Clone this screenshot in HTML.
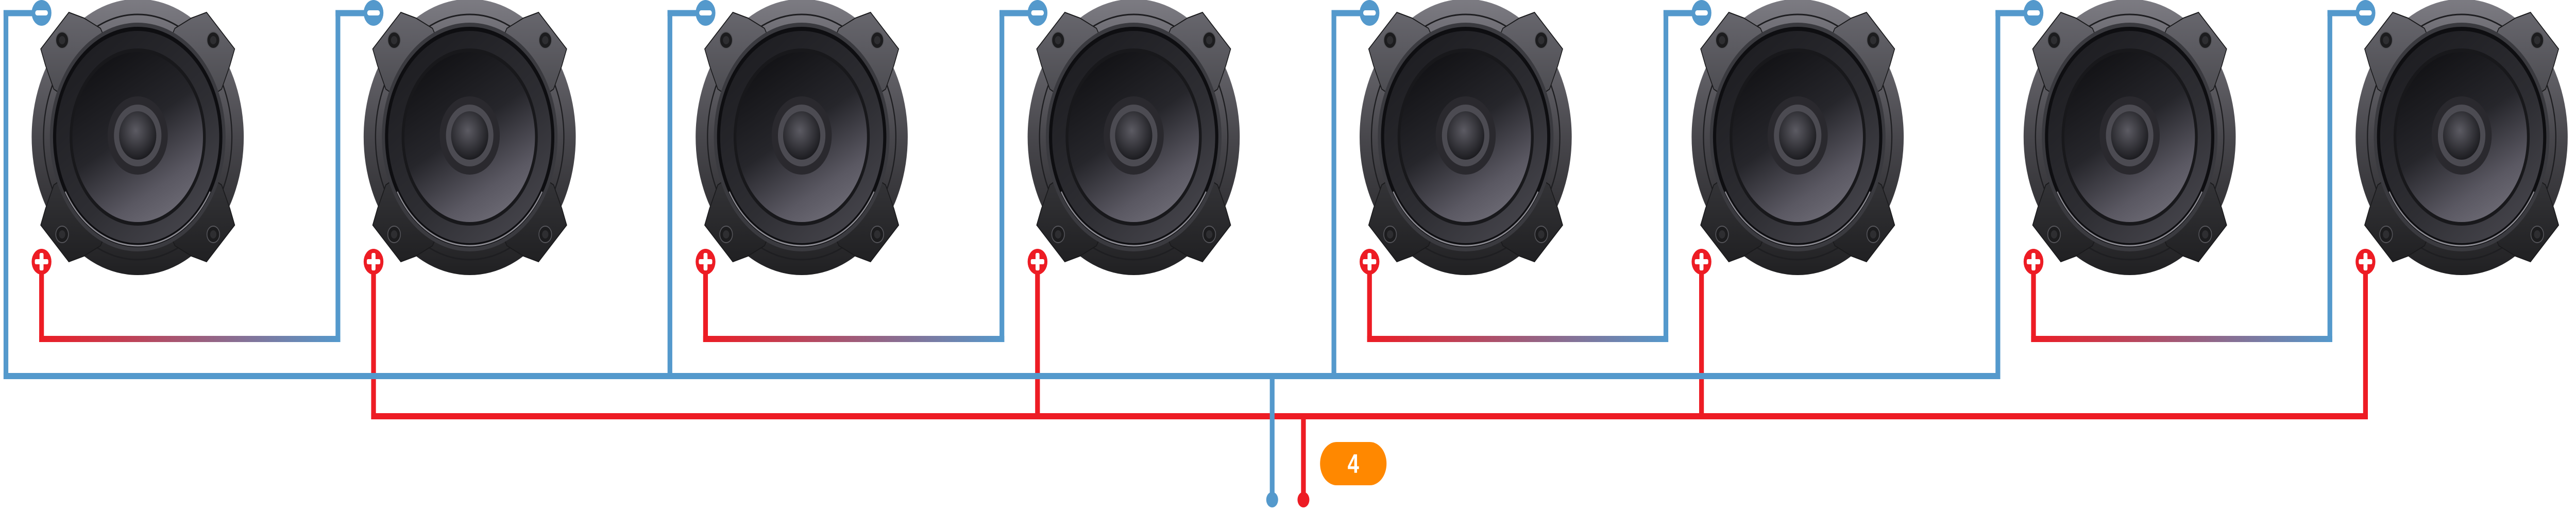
<!DOCTYPE html>
<html><head><meta charset="utf-8"><style>html,body{margin:0;padding:0;background:#fff;width:100%;height:100%;overflow:hidden}svg{display:block;width:100vw;height:100vh}</style></head>
<body>
<svg viewBox="0 0 6510 990" preserveAspectRatio="none" xmlns="http://www.w3.org/2000/svg">
<defs>
<linearGradient id="wg" x1="0" y1="0" x2="1" y2="0"><stop offset="0" stop-color="#ed1c24"/><stop offset="1" stop-color="#5499cc"/></linearGradient>
<linearGradient id="ring" gradientUnits="userSpaceOnUse" x1="0" y1="-268" x2="0" y2="268"><stop offset="0" stop-color="#7c7b82"/><stop offset="0.5" stop-color="#48474c"/><stop offset="1" stop-color="#202022"/></linearGradient>
<linearGradient id="brk" gradientUnits="userSpaceOnUse" x1="0" y1="-260" x2="0" y2="260"><stop offset="0" stop-color="#6a6970"/><stop offset="0.5" stop-color="#3e3e42"/><stop offset="1" stop-color="#1e1e20"/></linearGradient>
<linearGradient id="sur" gradientUnits="userSpaceOnUse" x1="-150" y1="-200" x2="150" y2="200"><stop offset="0" stop-color="#1c1c20"/><stop offset="0.6" stop-color="#2e2e33"/><stop offset="1" stop-color="#48474e"/></linearGradient>
<linearGradient id="cone" gradientUnits="userSpaceOnUse" x1="-80" y1="-160" x2="90" y2="160"><stop offset="0" stop-color="#121215"/><stop offset="0.45" stop-color="#26262b"/><stop offset="0.8" stop-color="#5a5862"/><stop offset="1" stop-color="#6e6c76"/></linearGradient>
<radialGradient id="cap" cx="0.45" cy="0.4" r="0.6"><stop offset="0" stop-color="#5c5b63"/><stop offset="1" stop-color="#1c1c20"/></radialGradient>
<g id="spk">
<circle r="268" fill="url(#ring)"/>
<circle r="238" fill="none" stroke="#1e1e21" stroke-width="3"/>
<g fill="url(#brk)" stroke="#1a1a1c" stroke-width="2">
<polygon points="-174,-242 -136,-231 -94,-211 -60,-150 -150,-60 -212,-93 -233,-139 -245,-171"/>
<polygon points="174,-242 136,-231 94,-211 60,-150 150,-60 212,-93 233,-139 245,-171"/>
<polygon points="-174,242 -136,231 -94,211 -60,150 -150,60 -212,93 -233,139 -245,171"/>
<polygon points="174,242 136,231 94,211 60,150 150,60 212,93 233,139 245,171"/>
</g>
<circle r="222" fill="#3a3a3f"/>
<circle r="214" fill="#0e0e11"/>
<circle r="206" fill="url(#sur)"/>
<path d="M -183 106 A 212 212 0 0 0 183 106" fill="none" stroke="#8a8990" stroke-width="3"/>
<circle r="172" fill="#18181b"/>
<circle r="165" fill="url(#cone)"/>
<circle cy="-3" r="76" fill="#2a292e"/>
<circle cy="-3" r="60" fill="#4c4b52"/>
<circle cy="-3" r="47" fill="url(#cap)"/>
<g fill="#1c1c1e" stroke="#55555a" stroke-width="2">
<circle cx="-191" cy="-188" r="16"/><circle cx="191" cy="-188" r="16"/>
<circle cx="-191" cy="189" r="16"/><circle cx="191" cy="189" r="16"/>
</g>
<g fill="#2e2e31">
<circle cx="-191" cy="-188" r="8"/><circle cx="191" cy="-188" r="8"/>
<circle cx="-191" cy="189" r="8"/><circle cx="191" cy="189" r="8"/>
</g>
</g>
<g id="minus"><circle r="25" fill="#5499cc"/><rect x="-16" y="-5" width="32" height="10" rx="5" fill="#fff"/></g>
<g id="plus"><circle r="25" fill="#ed1c24"/><rect x="-17" y="-5" width="34" height="10" rx="3" fill="#fff"/><rect x="-5" y="-17" width="10" height="34" rx="3" fill="#fff"/></g>
<g id="pair">
<rect x="9" y="19.5" width="96" height="12" fill="#5499cc"/>
<rect x="9" y="19.5" width="12" height="716.5" fill="#5499cc"/>
<rect x="99" y="508" width="12" height="156" fill="#ed1c24"/>
<rect x="99" y="652" width="761" height="12" fill="url(#wg)"/>
<rect x="848" y="19.5" width="12" height="644.5" fill="#5499cc"/>
<rect x="848" y="19.5" width="96" height="12" fill="#5499cc"/>
<rect x="938" y="508" width="12" height="306" fill="#ed1c24"/>
</g>
</defs>

<use href="#pair" x="0"/>
<use href="#pair" x="1678"/>
<use href="#pair" x="3356"/>
<use href="#pair" x="5034"/>
<rect x="9" y="724" width="5046" height="12" fill="#5499cc"/>
<rect x="938" y="802" width="5046" height="12" fill="#ed1c24"/>
<rect x="3209" y="724" width="12" height="246" fill="#5499cc"/>
<circle cx="3215" cy="970" r="15" fill="#5499cc"/>
<rect x="3288" y="802" width="12" height="168" fill="#ed1c24"/>
<circle cx="3294" cy="970" r="15" fill="#ed1c24"/>
<rect x="3336" y="858" width="168" height="84" rx="42" fill="#ff8800"/>
<text x="3420" y="918" font-family="Liberation Sans, sans-serif" font-size="52" font-weight="bold" fill="#fff" text-anchor="middle">4</text>

<use href="#spk" x="348" y="266"/>
<use href="#spk" x="1187" y="266"/>
<use href="#spk" x="2026" y="266"/>
<use href="#spk" x="2865" y="266"/>
<use href="#spk" x="3704" y="266"/>
<use href="#spk" x="4543" y="266"/>
<use href="#spk" x="5382" y="266"/>
<use href="#spk" x="6221" y="266"/>

<use href="#minus" x="105" y="25"/><use href="#plus" x="105" y="508"/>
<use href="#minus" x="944" y="25"/><use href="#plus" x="944" y="508"/>
<use href="#minus" x="1783" y="25"/><use href="#plus" x="1783" y="508"/>
<use href="#minus" x="2622" y="25"/><use href="#plus" x="2622" y="508"/>
<use href="#minus" x="3461" y="25"/><use href="#plus" x="3461" y="508"/>
<use href="#minus" x="4300" y="25"/><use href="#plus" x="4300" y="508"/>
<use href="#minus" x="5139" y="25"/><use href="#plus" x="5139" y="508"/>
<use href="#minus" x="5978" y="25"/><use href="#plus" x="5978" y="508"/>
</svg>
</body></html>
